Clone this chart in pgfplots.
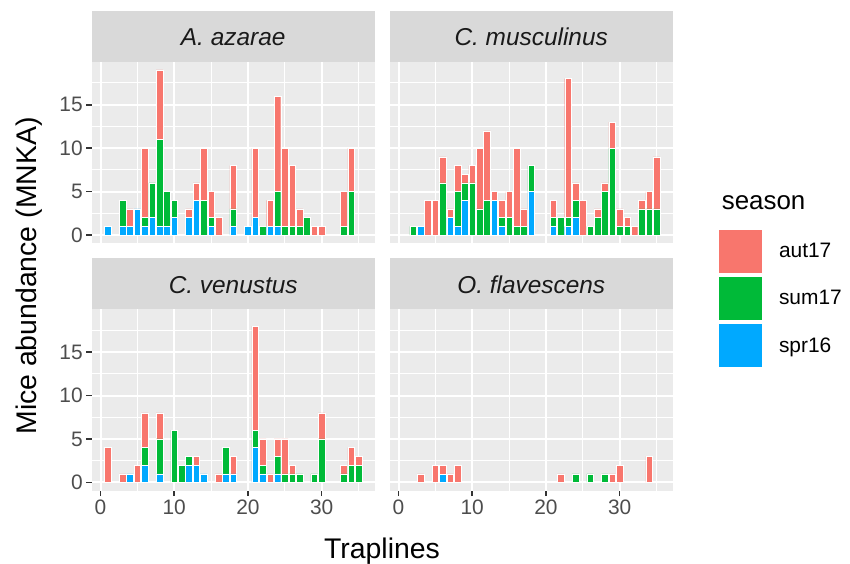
\documentclass[border=0pt]{standalone}
\usepackage{fontspec}
\setmainfont{Liberation Sans}
\usepackage{pgfplots}
\usepackage{pgfplotstable}
\pgfplotsset{compat=1.18}

\definecolor{autc}{HTML}{F8766D}
\definecolor{sumc}{HTML}{00BA38}
\definecolor{sprc}{HTML}{00A9FF}
\definecolor{panelbg}{HTML}{EBEBEB}
\definecolor{stripbg}{HTML}{D9D9D9}
\definecolor{ticklab}{HTML}{4D4D4D}
\definecolor{tickc}{HTML}{333333}
\definecolor{striptext}{HTML}{1A1A1A}

\pgfplotstableread{
t spr sum aut
1 1 0 0
2 0 0 0
3 1 3 0
4 1 0 2
5 3 0 0
6 1 1 8
7 2 4 0
8 1 10 8
9 1 4 0
10 2 2 0
11 0 0 0
12 2 0 1
13 4 0 2
14 0 4 6
15 1 1 3
16 0 0 2
17 0 0 0
18 1 2 5
19 0 0 0
20 1 0 0
21 2 0 8
22 0 1 0
23 1 0 3
24 1 4 11
25 0 1 9
26 0 1 7
27 0 1 2
28 0 2 0
29 0 0 1
30 0 0 1
31 0 0 0
32 0 0 0
33 0 1 4
34 0 5 5
35 0 0 0
}\azarae

\pgfplotstableread{
t spr sum aut
1 0 0 0
2 0 1 0
3 1 0 0
4 0 0 4
5 0 0 4
6 0 6 3
7 2 0 1
8 1 4 3
9 4 2 1
10 0 6 2
11 0 3 7
12 0 4 8
13 4 0 1
14 1 1 2
15 0 2 3
16 0 1 9
17 0 1 2
18 5 3 0
19 0 0 0
20 0 0 0
21 1 1 2
22 0 2 0
23 1 1 16
24 2 2 2
25 0 0 4
26 0 1 0
27 0 2 1
28 0 5 1
29 0 10 3
30 0 1 2
31 0 1 1
32 0 0 1
33 0 3 1
34 0 3 2
35 0 3 6
}\musculinus

\pgfplotstableread{
t spr sum aut
1 0 0 4
2 0 0 0
3 0 0 1
4 1 0 0
5 0 0 2
6 2 2 4
7 0 0 0
8 1 4 3
9 0 0 0
10 0 6 0
11 0 2 0
12 2 1 0
13 2 0 1
14 1 0 0
15 0 0 0
16 0 0 1
17 1 3 0
18 1 0 2
19 0 0 0
20 0 0 0
21 4 2 12
22 1 1 3
23 0 0 1
24 1 2 2
25 0 1 4
26 0 1 1
27 0 1 0
28 0 0 0
29 0 1 0
30 0 5 3
31 0 0 0
32 0 0 0
33 0 1 1
34 0 2 2
35 0 2 1
}\venustus

\pgfplotstableread{
t spr sum aut
1 0 0 0
2 0 0 0
3 0 0 1
4 0 0 0
5 0 0 2
6 1 0 1
7 0 0 1
8 0 0 2
9 0 0 0
10 0 0 0
11 0 0 0
12 0 0 0
13 0 0 0
14 0 0 0
15 0 0 0
16 0 0 0
17 0 0 0
18 0 0 0
19 0 0 0
20 0 0 0
21 0 0 0
22 0 0 1
23 0 0 0
24 0 1 0
25 0 0 0
26 0 1 0
27 0 0 0
28 0 1 0
29 0 0 1
30 0 0 2
31 0 0 0
32 0 0 0
33 0 0 0
34 0 0 3
35 0 0 0
}\flavescens

\pgfplotsset{
  panel/.style={
    scale only axis, width=283bp, height=181.6bp,
    anchor=south west,
    xmin=-1.195, xmax=37.195, ymin=-0.95, ymax=19.95,
    axis background/.style={fill=panelbg},
    axis line style={draw=none},
    xtick={0,10,20,30}, minor xtick={5,15,25,35},
    ytick={0,5,10,15}, minor ytick={2.5,7.5,12.5,17.5},
    grid=both,
    major grid style={draw=white, line width=2bp},
    minor grid style={draw=white, line width=1bp},
    xtick pos=bottom, ytick pos=left,
    tick align=outside,
    major tick length=5.5bp, minor tick length=0bp,
    major tick style={draw=tickc, line width=1.6bp},
    /pgf/number format/assume math mode=true,
    ticklabel style={font=\fontsize{21}{21}\selectfont, text=ticklab},
    ybar stacked, bar width=0.9,
  },
  sprbar/.style={fill=sprc, draw=white, line width=0.4bp},
  sumbar/.style={fill=sumc, draw=white, line width=0.4bp},
  autbar/.style={fill=autc, draw=white, line width=0.4bp},
}
\tikzset{
  striplabel/.style={anchor=base, font=\fontsize{24.5}{24.5}\selectfont\itshape, text=striptext},
}

\begin{document}
\begin{tikzpicture}
\useasboundingbox (0,0) rectangle (850bp,564bp);

% top-left
\begin{axis}[panel, name=p1, at={(91.7bp,320.7bp)}, xmajorticks=false, xticklabels={}]
\addplot[sprbar] table[x=t, y=spr] {\azarae};
\addplot[sumbar] table[x=t, y=sum] {\azarae};
\addplot[autbar] table[x=t, y=aut] {\azarae};
\end{axis}

% top-right
\begin{axis}[panel, name=p2, at={(389.7bp,320.7bp)}, xmajorticks=false, xticklabels={},
  ymajorticks=false, yticklabels={},
  legend style={at={(axis description cs:1.1636,0.0732)}, anchor=north west,
    draw=none, fill=none, inner sep=0pt, outer sep=0pt,
    row sep=4bp, column sep=17bp, nodes={inner sep=0pt},
    font=\fontsize{21}{21}\selectfont},
  legend cell align=left,
  legend image code/.code={\fill[#1, draw=none] (0bp,-21.5bp) rectangle (43bp,21.5bp);},
]
\addplot[sprbar, forget plot] table[x=t, y=spr] {\musculinus};
\addplot[sumbar, forget plot] table[x=t, y=sum] {\musculinus};
\addplot[autbar, forget plot] table[x=t, y=aut] {\musculinus};
\addlegendimage{fill=autc, draw=none}
\addlegendentry{aut17}
\addlegendimage{fill=sumc, draw=none}
\addlegendentry{sum17}
\addlegendimage{fill=sprc, draw=none}
\addlegendentry{spr16}
\end{axis}

% bottom-left
\begin{axis}[panel, name=p3, at={(91.7bp,73.3bp)}]
\addplot[sprbar] table[x=t, y=spr] {\venustus};
\addplot[sumbar] table[x=t, y=sum] {\venustus};
\addplot[autbar] table[x=t, y=aut] {\venustus};
\end{axis}

% bottom-right
\begin{axis}[panel, name=p4, at={(389.7bp,73.3bp)}, ymajorticks=false, yticklabels={}]
\addplot[sprbar] table[x=t, y=spr] {\flavescens};
\addplot[sumbar] table[x=t, y=sum] {\flavescens};
\addplot[autbar] table[x=t, y=aut] {\flavescens};
\end{axis}

% strips
\foreach \p/\lab in {p1/A. azarae, p2/C. musculinus, p3/C. venustus, p4/O. flavescens}{
  \fill[stripbg] (\p.north west) rectangle ([yshift=51bp]\p.north east);
  \node[striplabel] at ([yshift=15.7bp]\p.north) {\lab};
}

% axis titles
\node[rotate=90, anchor=base, font=\fontsize{28.5}{28.5}\selectfont, text=black] at (36.5bp,288bp) {Mice abundance (MNKA)};
\node[anchor=base, font=\fontsize{28.5}{28.5}\selectfont, text=black] at (382bp,5.7bp) {Traplines};
\node[anchor=base west, font=\fontsize{26}{26}\selectfont, text=black] at (718.3bp,354.7bp) {season};
\end{tikzpicture}
\end{document}
